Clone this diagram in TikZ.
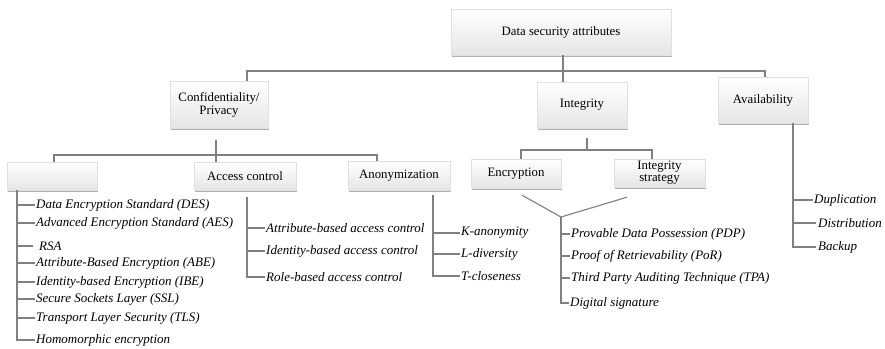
\documentclass[tikz,border=0pt]{standalone}
\usepackage{fontspec}
\setmainfont{Liberation Serif}
\usetikzlibrary{shadows}
\begin{document}
\begin{tikzpicture}[x=1pt,y=-1pt,
 box/.style={draw=black!12, top color=white, bottom color=black!10,
   drop shadow={shadow xshift=1.2pt, shadow yshift=-2.4pt, opacity=0.5, fill=black!60},
   inner sep=0pt, align=center, font=\fontsize{12.8}{13}\selectfont, text=black},
 leaf/.style={anchor=west, inner sep=1pt, font=\fontsize{13}{14}\selectfont\itshape, text=black},
 conn/.style={draw=black!50, line width=1.1pt}]
\useasboundingbox[fill=white] (0,0) rectangle (885,348);

% boxes
\node[box, minimum width=220pt, minimum height=46pt] (top) at (561,32) {Data security attributes};
\node[box, minimum width=98pt, minimum height=47pt] (conf) at (219,104.5) {Confidentiality/\\Privacy};
\node[box, minimum width=90pt, minimum height=46pt] (integ) at (582,105) {Integrity};
\node[box, minimum width=90pt, minimum height=46pt] (avail) at (763,100) {Availability};
\node[box, minimum width=90pt, minimum height=28pt] (enc1) at (52,176) {};
\node[box, minimum width=102pt, minimum height=28pt] (access) at (245,176) {Access control};
\node[box, minimum width=102pt, minimum height=29pt] (anon) at (399,175.5) {Anonymization};
\node[box, minimum width=90pt, minimum height=29pt] (encr) at (516,173.5) {Encryption};
\node[box, minimum width=91pt, minimum height=28pt, font=\fontsize{12.8}{12}\selectfont] (istrat) at (659.5,173) {Integrity\\strategy};

% level 1 connectors
\coordinate (j0) at (563,71);
\draw[conn] (top.south -| j0) -- (j0 |- integ.north);
\draw[conn] ([xshift=28pt]conf.north) |- (j0) -| ([xshift=2pt]avail.north);

% confidentiality connectors
\coordinate (j1) at (216,155);
\draw[conn] ([yshift=-12pt]conf.south -| j1) -- (j1 |- access.north);
\draw[conn] ([xshift=2pt]enc1.north) |- (j1) -| ([xshift=-22pt]anon.north);

% integrity connectors
\coordinate (j2) at (587,150);
\draw[conn] ([yshift=-10pt]integ.south -| j2) -- (j2);
\draw[conn] ([xshift=5pt]encr.north) |- (j2) -| ([xshift=-7.5pt]istrat.north);

% encryption leaves
\node[leaf] (des) at (35,205) {Data Encryption Standard (DES)};
\node[leaf] (aes) at (35,223) {Advanced Encryption Standard (AES)};
\node[leaf] (rsa) at (38,246) {RSA};
\node[leaf] (abe) at (35,263) {Attribute-Based Encryption (ABE)};
\node[leaf] (ibe) at (35,282) {Identity-based Encryption (IBE)};
\node[leaf] (ssl) at (35,299) {Secure Sockets Layer (SSL)};
\node[leaf] (tls) at (35,318) {Transport Layer Security (TLS)};
\node[leaf] (homo) at (35,340) {Homomorphic encryption};
\coordinate (c1) at ([xshift=-35pt]enc1.south);
\draw[conn] (c1) |- (homo.west);
\foreach \n in {des,aes,abe,ibe,ssl,tls} \draw[conn] (c1 |- \n.west) -- (\n.west);
\draw[conn] (c1 |- rsa.west) -- ([xshift=-5pt]rsa.west);

% access control leaves
\node[leaf] (attr) at (265,228) {Attribute-based access control};
\node[leaf] (ident) at (265,251) {Identity-based access control};
\node[leaf] (role) at (265,277) {Role-based access control};
\coordinate (c2) at (247,197);
\draw[conn] (c2) |- (role.west);
\foreach \n in {attr,ident} \draw[conn] (c2 |- \n.west) -- (\n.west);

% anonymization leaves
\node[leaf] (kan) at (460,233) {K-anonymity};
\node[leaf] (ldiv) at (460,254) {L-diversity};
\node[leaf] (tclo) at (460,276) {T-closeness};
\coordinate (c3) at (433,195);
\draw[conn] (c3) |- (tclo.west);
\foreach \n in {kan,ldiv} \draw[conn] (c3 |- \n.west) -- (\n.west);

% integrity leaves
\coordinate (v) at (561,217);
\draw[conn] ([xshift=6pt,yshift=-7pt]encr.south) -- (v) -- ([xshift=-32.5pt,yshift=-10pt]istrat.south);
\node[leaf] (pdp) at (570,234) {Provable Data Possession (PDP)};
\node[leaf] (por) at (570,256) {Proof of Retrievability (PoR)};
\node[leaf] (tpa) at (570,278) {Third Party Auditing Technique (TPA)};
\node[leaf] (dsig) at (569,303) {Digital signature};
\draw[conn] (v) |- (dsig.west);
\foreach \n in {pdp,por,tpa} \draw[conn] (v |- \n.west) -- (\n.west);

% availability leaves
\node[leaf] (dup) at (813,200) {Duplication};
\node[leaf] (dist) at (817,223) {Distribution};
\node[leaf] (back) at (817,247) {Backup};
\coordinate (c5) at ([xshift=30pt]avail.south);
\draw[conn] (c5) |- (dup.west);
\draw[conn] (c5 |- dup.west) -- (c5 |- back.west) -- ([xshift=-1pt]back.west);
\draw[conn] (c5 |- dist.west) -- ([xshift=-1pt]dist.west);
\end{tikzpicture}
\end{document}
